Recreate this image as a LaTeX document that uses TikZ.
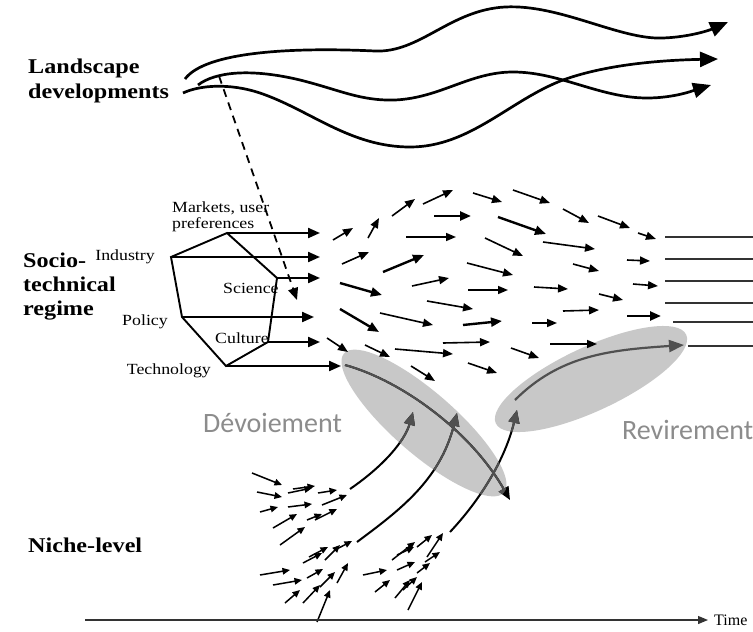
\documentclass[tikz,border=0pt]{standalone}
\usepackage{fontspec}
\setmainfont{Liberation Serif}[FakeStretch=1.15]
\newfontfamily\plainserif{Liberation Serif}
\newfontfamily\labelsans{Carlito}
\usetikzlibrary{arrows.meta}
\definecolor{ellgray}{HTML}{C8C8C8}
\definecolor{ingray}{HTML}{505050}
\definecolor{txtgray}{HTML}{8C8C8C}
\definecolor{linegray}{HTML}{333333}
\newcommand\nichecurvesdraw[1]{%
  \draw[ncurve,#1] (n1s) .. controls (385,465) and (405,440) .. (n1e);
  \draw[ncurve,#1] (n2s) .. controls (400,510) and (440,480) .. (n2e);
  \draw[ncurve,#1] (n3s) .. controls (480,500) and (505,460) .. (n3e);
  \draw[ncurve,#1] (dvs) .. controls (400,380) and (470,430) .. (dve);
}
\begin{document}
\begin{tikzpicture}[x=1pt,y=-1pt,
  bigl/.style={font=\fontsize{21}{24}\selectfont\bfseries, inner sep=0pt, anchor=base west},
  lab/.style={font=\fontsize{15.5}{18}\selectfont, inner sep=0pt},
  sanslab/.style={font=\labelsans\fontsize{28}{32}\selectfont, text=txtgray, inner sep=0pt, anchor=base west},
  lcurve/.style={line width=2.7pt, -{Triangle[length=18pt,width=15pt]}},
  hexline/.style={line width=1.9pt, line join=miter},
  harrow/.style={line width=2.2pt, -{Triangle[length=12pt,width=10pt]}},
  fa/.style={line width=1.6pt, -{Triangle[length=10pt,width=8pt]}},
  fat/.style={line width=2.4pt, -{Triangle[length=11pt,width=9pt]}},
  na/.style={line width=1.5pt, -{Triangle[length=7.5pt,width=6.5pt]}},
  ncurve/.style={line width=2pt, -{Triangle[length=13pt,width=11pt]}},
  ellA/.style={rotate around={-41:(424,423)}},
  ellB/.style={rotate around={25:(591,379)}},
]
\useasboundingbox (0,0) rectangle (753,632);
\fill[white] (0,0) rectangle (753,632);

% ellipses
\fill[ellgray, ellA] (424,423) ellipse [x radius=106pt, y radius=31pt];
\fill[ellgray, ellB] (591,379) ellipse [x radius=105pt, y radius=32pt];

% labels
\node[bigl] (land1) at (28,73) {Landscape};
\node[bigl] (land2) at (28,98) {developments};
\node[bigl] (soc1) at (23,267) {Socio-};
\node[bigl] (soc2) at (23,291) {technical};
\node[bigl] (soc3) at (23,315) {regime};
\node[bigl] (niche) at (28,552) {Niche-level};

\node[lab, anchor=base west] (mk1) at (172,212) {Markets, user};
\node[lab, anchor=base west] (mk2) at (172,228) {preferences};
\node[lab, anchor=base east] (ind) at (155,260) {Industry};
\node[lab, anchor=base west] (sci) at (223,293) {Science};
\node[lab, anchor=base east] (pol) at (168,325) {Policy};
\node[lab, anchor=base west] (cul) at (215,343) {Culture};
\node[lab, anchor=base east] (tec) at (211,374) {Technology};

\node[sanslab] (dev) at (203,432) {Dévoiement};
\node[sanslab] (rev) at (622,439) {Revirement};
\node[font=\plainserif\fontsize{16}{19}\selectfont, inner sep=0pt, anchor=base west] (time) at (714,625) {Time};

% landscape curves
\draw[lcurve] (185,79) .. controls (205,52) and (290,47) .. (375,51)
  .. controls (420,53) and (450,10) .. (505,7)
  .. controls (560,4) and (620,40) .. (663,38)
  .. controls (690,37) and (710,30) .. (728,22);
\draw[lcurve] (198,85) .. controls (215,72) and (250,68) .. (300,80)
  .. controls (340,90) and (360,101) .. (395,100)
  .. controls (440,98) and (470,72) .. (513,72)
  .. controls (560,72) and (600,98) .. (647,98)
  .. controls (675,98) and (695,90) .. (711,85);
\draw[lcurve] (183,93) .. controls (200,85) and (230,83) .. (260,93)
  .. controls (310,110) and (350,147) .. (410,147)
  .. controls (470,147) and (510,100) .. (563,80)
  .. controls (610,63) and (670,60) .. (718,59);

% dashed influence arrow
\coordinate (ds) at (219,76);
\coordinate (de) at (297,300);
\draw[line width=1.8pt, dash pattern=on 8pt off 6pt, -{Triangle[length=12pt,width=10pt]}] (ds) -- (de);

% hexagon of the regime
\coordinate (hI) at (171,257);
\coordinate (hT) at (227,233);
\coordinate (hS) at (277,278);
\coordinate (hC) at (268,342);
\coordinate (hB) at (226,366);
\coordinate (hP) at (182,317);
\draw[hexline] (hI) -- (hT) -- (hS) -- (hC) -- (hB) -- (hP) -- cycle;

\coordinate (eT) at (320,233);
\coordinate (eI) at (320,257);
\coordinate (eS) at (320,278);
\coordinate (eP) at (314,317);
\coordinate (eC) at (320,342);
\coordinate (eB) at (341,366);
\draw[harrow] (hT) -- (eT);
\draw[harrow] (hI) -- (eI);
\draw[harrow] (hS) -- (eS);
\draw[harrow] (hP) -- (eP);
\draw[harrow] (hC) -- (eC);
\draw[harrow] (hB) -- (eB);

% field of arrows
\foreach \a/\b/\c/\d in {333/240/353/228, 368/238/379/218, 392/216/415/199,
  423/204/453/190, 406/237/456/237, 342/264/369/252, 412/286/449/278,
  427/301/473/309, 473/193/502/202, 513/190/550/203, 563/209/589/223,
  598/216/630/228, 638/233/656/239, 485/238/523/256, 543/242/595/249,
  627/260/650/261, 467/263/513/275, 573/264/599/271, 468/290/508/290,
  534/287/568/289, 633/284/658/286, 599/294/623/300, 563/311/599/310,
  380/313/433/325, 532/323/557/323, 443/343/490/342, 395/349/453/354,
  511/348/539/358, 550/344/597/344, 411/366/435/381, 468/363/497/373,
  327/338/348/352, 365/345/390/357}
  \draw[fa] (\a,\b) -- (\c,\d);
\foreach \a/\b/\c/\d in {434/216/471/216, 383/272/424/255, 340/283/382/295,
  498/217/546/234, 627/316/661/316, 463/325/502/321, 340/309/379/332}
  \draw[fat] (\a,\b) -- (\c,\d);

% stable regime lines
\foreach \y/\x in {237/665, 259/665, 281/665, 303/665, 322/673, 346/688}
  \draw[line width=2pt, linegray] (\x,\y) -- (760,\y);

% niche clusters
\foreach \a/\b/\c/\d in {252/473/282/485, 257/492/282/497, 260/512/278/507,
  288/493/312/488, 293/489/315/486, 318/493/337/490, 288/507/312/504,
  322/505/347/495, 273/528/297/514, 307/520/322/514, 315/520/337/509,
  280/545/305/527,
  260/575/290/570, 273/585/302/580, 285/603/300/590, 303/563/322/553,
  309/557/328/547, 307/578/323/569, 325/560/340/545, 335/550/352/541,
  303/603/320/585, 320/587/335/572, 337/583/348/563, 317/622/330/590,
  363/575/387/570, 375/592/390/580, 392/560/415/542, 397/555/414/547,
  417/547/432/535, 397/570/415/562, 403/590/417/577, 425/562/440/552,
  427/557/443/533, 408/610/422/582, 417/573/430/563, 395/598/410/580}
  \draw[na] (\a,\b) -- (\c,\d);

% niche trajectories and the deviation curve
\coordinate (n1s) at (350,489);
\coordinate (n1e) at (413,412);
\coordinate (n2s) at (357,542);
\coordinate (n2e) at (457,413);
\coordinate (n3s) at (450,532);
\coordinate (n3e) at (517,410);
\coordinate (dvs) at (345,365);
\coordinate (dve) at (510,500);
\nichecurvesdraw{black}
\begin{scope}
  \clip[ellA] (424,423) ellipse [x radius=106pt, y radius=31pt];
  \nichecurvesdraw{ingray}
\end{scope}
\begin{scope}
  \clip[ellB] (591,379) ellipse [x radius=105pt, y radius=32pt];
  \nichecurvesdraw{ingray}
\end{scope}

% reconfiguration curve
\coordinate (rvs) at (515,400);
\coordinate (rve) at (684,345);
\draw[line width=2.2pt, ingray, -{Triangle[length=15pt,width=12pt]}] (rvs) .. controls (560,355) and (610,350) .. (rve);

% time axis
\coordinate (t0) at (85,620);
\coordinate (t1) at (708,620);
\draw[line width=1.2pt, linegray, -{Triangle[length=10pt,width=8pt]}] (t0) -- (t1);
\end{tikzpicture}
\end{document}
